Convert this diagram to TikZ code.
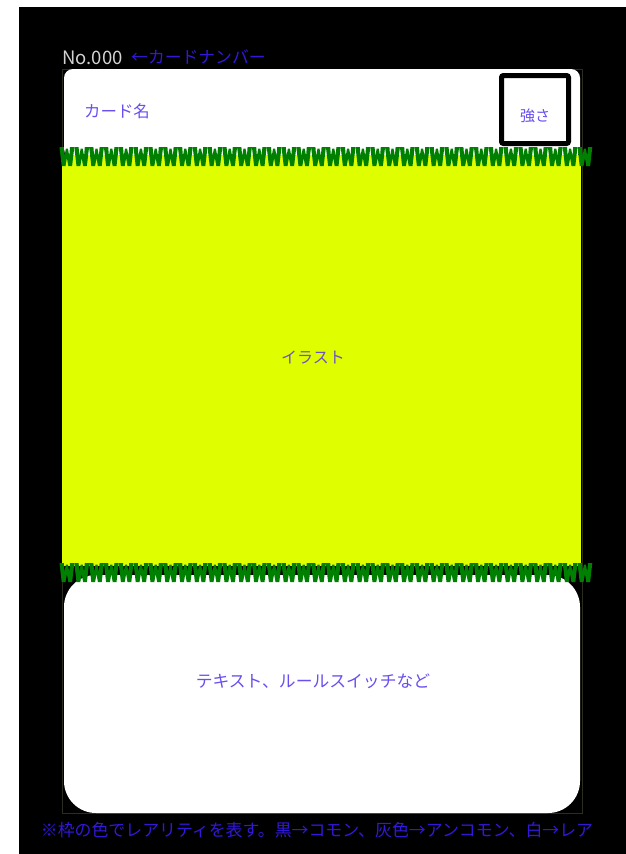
\documentclass[tikz,border=0pt]{standalone}
\usepackage{fontspec}
\setmainfont{Noto Sans CJK JP}
\definecolor{cardyellow}{HTML}{DFFF00}
\definecolor{grassgreen}{HTML}{008000}
\definecolor{deepblue}{HTML}{3318D8}
\definecolor{softblue}{HTML}{6A4EF0}
\definecolor{illublue}{HTML}{6B55C0}
\definecolor{numgray}{HTML}{D2D2D2}
\definecolor{frameline}{HTML}{2C2C20}
\begin{document}
\begin{tikzpicture}[x=1pt,y=-1pt,
  lbl/.style={inner sep=0pt,font=\fontsize{16.8}{17}\selectfont},
  wglyph/.pic={\fill[grassgreen] (0,0) -- (4.3,0) -- (5.0,9) -- (6.4,1.5) -- (8.4,1.5) -- (9.8,9) -- (10.5,0) -- (14.8,0) -- (12.6,19) -- (8.8,19) -- (7.4,11) -- (6.0,19) -- (2.2,19) -- cycle;}]
\useasboundingbox (0,0) rectangle (626,854);
\fill[white] (0,0) rectangle (626,854);
\fill[black] (19,7) rectangle (626,854);
\draw[frameline,line width=0.8pt] (62.5,69) rectangle (582,813);
% top card
\fill[white,rounded corners=9pt] (64,69) rectangle (580,158);
\draw[black,line width=5pt,rounded corners=2pt] (501.5,75.5) rectangle (568.5,143.5);
% illustration
\fill[cardyellow] (62,155) rectangle (581,566);
% bottom card
\fill[white,rounded corners=32pt] (64,575) rectangle (580,813);
% grass rows
\foreach \i in {0,...,35}{
  \begin{scope}[shift={(59.5+14.8*\i,147)},xslant=0.14]
    \pic {wglyph};
  \end{scope}
  \begin{scope}[shift={(59.5+14.8*\i,563)},xslant=0.14]
    \pic {wglyph};
  \end{scope}
}
% texts
\node[lbl,anchor=west,text=numgray,font=\fontsize{18.5}{19}\selectfont] (num) at (62,58) {No.000};
\node[lbl,anchor=west,text=deepblue] (numlbl) at (131,57) {←カードナンバー};
\node[lbl,anchor=west,text=softblue,font=\fontsize{16.4}{17}\selectfont] (name) at (84,111) {カード名};
\node[lbl,text=softblue,font=\fontsize{15}{15}\selectfont] (power) at (535,116) {強さ};
\node[lbl,text=illublue,font=\fontsize{16}{16}\selectfont] (illu) at (313,358) {イラスト};
\node[lbl,text=softblue] (rules) at (313,681) {テキスト、ルールスイッチなど};
\node[lbl,text=deepblue,font=\fontsize{16.9}{17}\selectfont] (note) at (317,830) {※枠の色でレアリティを表す。黒→コモン、灰色→アンコモン、白→レア};
\end{tikzpicture}
\end{document}
